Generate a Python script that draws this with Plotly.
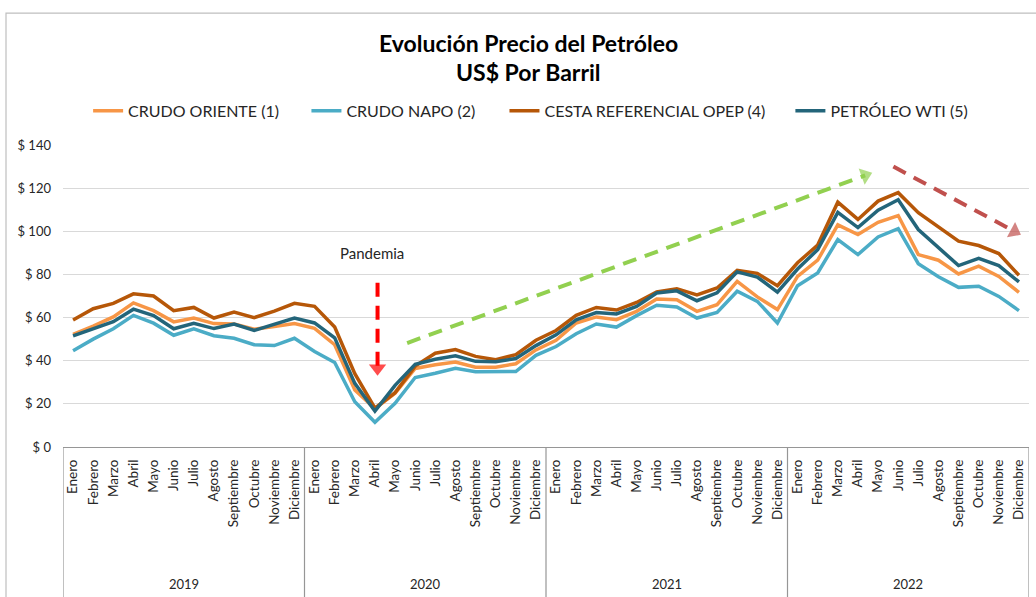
import plotly.graph_objects as go

months = ["Enero", "Febrero", "Marzo", "Abril", "Mayo", "Junio", "Julio", "Agosto",
          "Septiembre", "Octubre", "Noviembre", "Diciembre"]
years = ["2019", "2020", "2021", "2022"]

crudo_oriente = [52.2, 56.0, 60.3, 66.8, 63.2, 58.0, 59.8, 57.2, 57.0, 54.6, 55.9, 57.2,
                 55.0, 47.4, 26.5, 17.8, 24.9, 36.4, 38.1, 39.4, 37.0, 37.0, 38.6, 45.0,
                 49.5, 57.5, 60.3, 59.0, 62.9, 68.6, 68.3, 62.9, 66.0, 76.8, 69.6, 63.7,
                 79.1, 86.6, 103.0, 98.5, 104.2, 107.3, 89.2, 86.6, 80.2, 83.8, 79.1, 71.7]
crudo_napo = [44.6, 50.0, 54.8, 61.0, 57.4, 51.8, 54.8, 51.6, 50.4, 47.4, 47.0, 50.4,
              44.3, 39.2, 21.0, 11.5, 20.3, 32.2, 34.2, 36.5, 34.9, 34.9, 35.0, 42.5,
              46.6, 52.5, 57.0, 55.6, 60.9, 65.7, 64.9, 59.8, 62.4, 72.2, 67.5, 57.5,
              74.8, 80.7, 96.2, 89.2, 97.4, 101.2, 85.0, 78.9, 74.0, 74.5, 69.8, 63.2]
cesta_opep = [58.9, 64.1, 66.6, 71.0, 70.0, 63.2, 64.7, 59.8, 62.5, 60.0, 63.0, 66.6,
              65.2, 55.6, 34.0, 18.0, 25.2, 37.5, 43.5, 45.2, 42.0, 40.5, 42.8, 49.5,
              54.0, 61.0, 64.7, 63.5, 67.0, 71.9, 73.4, 70.5, 73.7, 81.9, 80.5, 74.8,
              85.4, 93.6, 113.5, 105.5, 114.0, 117.9, 108.6, 102.2, 95.4, 93.4, 89.7, 79.6]
petroleo_wti = [51.5, 54.9, 58.1, 63.9, 60.9, 54.8, 57.3, 54.9, 57.0, 54.0, 57.0, 59.8,
                57.5, 50.6, 29.5, 16.6, 28.6, 38.3, 40.7, 42.3, 39.7, 39.5, 41.0, 47.0,
                52.0, 59.0, 62.3, 61.7, 65.2, 71.4, 72.4, 67.8, 71.5, 81.2, 78.8, 71.8,
                82.5, 91.5, 108.8, 101.7, 109.8, 114.6, 100.8, 92.5, 84.1, 87.4, 84.1, 76.5]

series_names = ["CRUDO ORIENTE (1)", "CRUDO NAPO (2)", "CESTA REFERENCIAL OPEP (4)", "PETRÓLEO WTI (5)"]
series_colors = ["#F79646", "#4BACC6", "#B65708", "#23657A"]
legend_x = [0.026, 0.252, 0.457, 0.753]

y_ticks = [0, 20, 40, 60, 80, 100, 120, 140]
y_tick_labels = ["$ 0", "$ 20", "$ 40", "$ 60", "$ 80", "$ 100", "$ 120", "$ 140"]

# decorative arrows: (x_start, y_start, x_head, y_head, color) in data units
arrows = [
    (16.6, 48.2, 39.36, 125.9, "#92D050"),
    (40.76, 130.0, 46.77, 100.0, "#C0504D"),
    (15.13, 76.1, 15.13, 36.5, "#FF0000"),
]

FONT = "Lato"
TXT = "#262626"

labels = [m for _ in years for m in months]
x = list(range(len(labels)))
n = len(labels)

fig = go.Figure()
for i, (name, vals, col) in enumerate(zip(series_names,
                                          [crudo_oriente, crudo_napo, cesta_opep, petroleo_wti],
                                          series_colors)):
    fig.add_trace(go.Scatter(x=x, y=vals, name=name, mode="lines",
                             legend="legend" if i == 0 else f"legend{i + 1}",
                             line=dict(color=col, width=3.5)))

for x0, y0, x1, y1, col in arrows:
    fig.add_trace(go.Scatter(x=[x0, x1], y=[y0, y1], mode="lines", showlegend=False,
                             hoverinfo="skip", line=dict(color=col, width=4, dash="14px,9px")))
    fig.add_trace(go.Scatter(x=[x0, x1], y=[y0, y1], mode="markers", showlegend=False,
                             hoverinfo="skip",
                             marker=dict(symbol="triangle-up", size=[0, 15], color=col,
                                         angleref="previous", line=dict(width=0))))

# year separators and labels
for k, yr in enumerate(years):
    fig.add_shape(type="line", xref="x", yref="paper", x0=k * 12 - 0.5, x1=k * 12 - 0.5,
                  y0=0, y1=-0.52, line=dict(color="#969696", width=1.2))
    fig.add_annotation(x=k * 12 + 5.5, y=-0.455, xref="x", yref="paper", text=yr,
                       yanchor="middle", showarrow=False,
                       font=dict(family=FONT, size=13, color=TXT))
fig.add_shape(type="line", xref="x", yref="paper", x0=n - 0.5, x1=n - 0.5,
              y0=0, y1=-0.52, line=dict(color="#969696", width=1.2))

# outer chart border
fig.add_shape(type="rect", xref="paper", yref="paper", x0=-0.059, x1=1.2, y0=-0.7, y1=1.437,
              line=dict(color="#BFBFBF", width=1.2), layer="below")

fig.add_annotation(x=14.87, y=90.1, xref="x", yref="y", text="Pandemia", showarrow=False,
                   yanchor="middle", font=dict(family=FONT, size=15, color=TXT))

fig.add_annotation(x=0.482, y=1.338, xref="paper", yref="paper", text="<b>Evolución Precio del Petróleo</b>",
                   yanchor="middle", showarrow=False, font=dict(family=FONT, size=23, color="#000000"))
fig.add_annotation(x=0.482, y=1.242, xref="paper", yref="paper", text="<b>US$ Por Barril</b>",
                   yanchor="middle", showarrow=False, font=dict(family=FONT, size=23, color="#000000"))

legend_common = dict(orientation="h", y=1.113, yanchor="middle", xanchor="left",
                     font=dict(family=FONT, size=16, color=TXT), itemwidth=30,
                     bgcolor="rgba(0,0,0,0)")
layout_legends = {}
for i, lx in enumerate(legend_x):
    key = "legend" if i == 0 else f"legend{i + 1}"
    layout_legends[key] = dict(legend_common, x=lx)

fig.update_layout(
    width=1036, height=597,
    margin=dict(l=63, r=7, t=145, b=150, autoexpand=False),
    paper_bgcolor="white", plot_bgcolor="white",
    showlegend=True,
    xaxis=dict(range=[-0.5, n - 0.5], tickmode="array", tickvals=x, ticktext=labels,
               tickangle=-90, showgrid=False, zeroline=False, showline=True,
               linecolor="#969696", linewidth=1.2, ticks="", automargin=False,
               tickfont=dict(family=FONT, size=13.5, color=TXT), ticklabelstandoff=6),
    yaxis=dict(range=[0, 140], tickmode="array", tickvals=y_ticks, ticktext=y_tick_labels,
               showgrid=True, gridcolor="#D9D9D9", gridwidth=1.3, zeroline=False,
               showline=False, ticks="", automargin=False,
               tickfont=dict(family=FONT, size=13, color=TXT),
               ticklabelstandoff=11),
    hovermode=False,
    **layout_legends,
)

fig.write_html("out.html", config={"displayModeBar": False},
               post_script="document.body.style.margin='0';document.body.style.overflow='hidden';")
